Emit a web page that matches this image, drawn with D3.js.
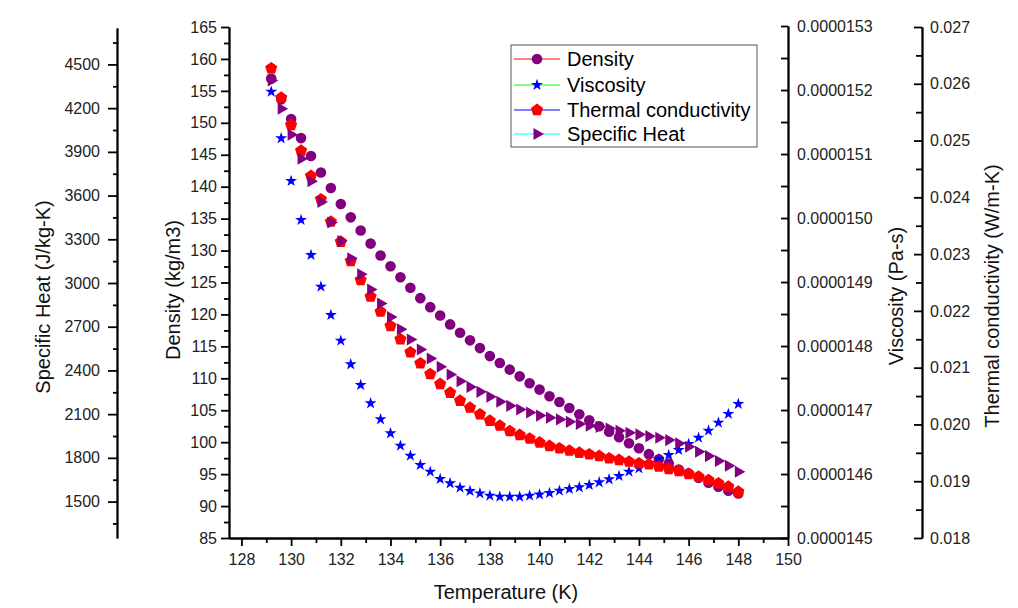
<!DOCTYPE html>
<html>
<head>
<meta charset="utf-8">
<script src="https://cdn.jsdelivr.net/npm/d3@7/dist/d3.min.js"></script>
<style>
  html, body { margin: 0; padding: 0; background: #fff; }
  svg { display: block; font-family: "Liberation Sans", Arial, sans-serif; }
</style>
</head>
<body>
<svg id="chart" width="1018" height="608"></svg>
<script>
// ---------------- data ----------------
const temperature = [129.2, 129.6, 130.0, 130.4, 130.8, 131.2, 131.6, 132.0, 132.4, 132.8,
  133.2, 133.6, 134.0, 134.4, 134.8, 135.2, 135.6, 136.0, 136.4, 136.8,
  137.2, 137.6, 138.0, 138.4, 138.8, 139.2, 139.6, 140.0, 140.4, 140.8,
  141.2, 141.6, 142.0, 142.4, 142.8, 143.2, 143.6, 144.0, 144.4, 144.8,
  145.2, 145.6, 146.0, 146.4, 146.8, 147.2, 147.6, 148.0];

const density = [156.92, 153.67, 150.58, 147.61, 144.80, 142.23, 139.80, 137.30, 135.20, 133.13,
  131.09, 129.22, 127.55, 125.83, 124.17, 122.55, 121.14, 119.84, 118.44, 117.14,
  115.94, 114.73, 113.48, 112.39, 111.36, 110.31, 109.22, 108.23, 107.19, 106.30,
  105.36, 104.38, 103.44, 102.50, 101.64, 100.78, 99.84, 99.06, 98.13, 97.34,
  96.67, 95.73, 95.11, 94.42, 93.64, 93.02, 92.39, 91.98];

const viscosity = [1.51973e-5, 1.51245e-5, 1.50578e-5, 1.49969e-5, 1.49422e-5, 1.48927e-5, 1.48484e-5, 1.48083e-5, 1.47714e-5, 1.47391e-5,
  1.47105e-5, 1.46855e-5, 1.46636e-5, 1.46442e-5, 1.46286e-5, 1.46141e-5, 1.46036e-5, 1.45922e-5, 1.45855e-5, 1.45786e-5,
  1.45734e-5, 1.45698e-5, 1.45661e-5, 1.45645e-5, 1.45645e-5, 1.45645e-5, 1.45661e-5, 1.45680e-5, 1.45703e-5, 1.45739e-5,
  1.45766e-5, 1.45792e-5, 1.45828e-5, 1.45870e-5, 1.45917e-5, 1.45969e-5, 1.46036e-5, 1.46089e-5, 1.46164e-5, 1.46234e-5,
  1.46297e-5, 1.46375e-5, 1.46469e-5, 1.46567e-5, 1.46677e-5, 1.46802e-5, 1.46938e-5, 1.47094e-5];

const thermalConductivity = [0.026272, 0.025755, 0.025274, 0.024821, 0.024376, 0.023965, 0.023571, 0.023218, 0.022878, 0.022544,
  0.022250, 0.021986, 0.021734, 0.021499, 0.021271, 0.021077, 0.020888, 0.020712, 0.020559, 0.020418,
  0.020295, 0.020179, 0.020066, 0.019978, 0.019884, 0.019814, 0.019752, 0.019682, 0.019620, 0.019580,
  0.019538, 0.019502, 0.019474, 0.019444, 0.019404, 0.019374, 0.019344, 0.019316, 0.019298, 0.019256,
  0.019215, 0.019180, 0.019127, 0.019080, 0.019021, 0.018963, 0.018903, 0.018815];

const specificHeat = [4390, 4196, 4018, 3853, 3698, 3556, 3415, 3288, 3170, 3060,
  2955, 2859, 2767, 2683, 2612, 2544, 2482, 2425, 2372, 2326,
  2287, 2253, 2219, 2185, 2157, 2132, 2111, 2090, 2076, 2064,
  2047, 2032, 2021, 2013, 2001, 1986, 1972, 1961, 1949, 1938,
  1922, 1899, 1876, 1842, 1812, 1778, 1746, 1705];

const xTicks = [128, 130, 132, 134, 136, 138, 140, 142, 144, 146, 148, 150];
const densityTicks = [85, 90, 95, 100, 105, 110, 115, 120, 125, 130, 135, 140, 145, 150, 155, 160, 165];
const viscosityTicks = [0.0000145, 0.0000146, 0.0000147, 0.0000148, 0.0000149, 0.0000150, 0.0000151, 0.0000152, 0.0000153];
const tcTicks = [0.018, 0.019, 0.020, 0.021, 0.022, 0.023, 0.024, 0.025, 0.026, 0.027];
const cpTicks = [1500, 1800, 2100, 2400, 2700, 3000, 3300, 3600, 3900, 4200, 4500];

const seriesNames = ["Density", "Viscosity", "Thermal conductivity", "Specific Heat"];
const legendLineColors = ["#ff0000", "#00ff00", "#0000ff", "#00ffff"];
const markerColors = ["#800080", "#0000ff", "#ff0000", "#800080"];

// ---------------- layout ----------------
const svg = d3.select("#chart");
const X0 = 229, X1 = 788, YB = 538;
const FONT_TICK = 16, FONT_TITLE = 20;

const x = d3.scaleLinear().domain([127.5, 150]).range([X0, X1]);
const yD = d3.scaleLinear().domain([85, 165]).range([YB, 27]);
const yV = d3.scaleLinear().domain([0.0000145, 0.0000153]).range([YB, 26]);
const yK = d3.scaleLinear().domain([0.018, 0.027]).range([YB, 27]);
const yC = d3.scaleLinear().domain([1250, 4750]).range([YB, 28]);

function minorBetween(ticks, extraBelow, extraAbove) {
  const out = [];
  for (let i = 0; i < ticks.length - 1; i++) out.push((ticks[i] + ticks[i + 1]) / 2);
  if (extraBelow !== undefined) out.unshift(extraBelow);
  if (extraAbove !== undefined) out.push(extraAbove);
  return out;
}

function styleAxis(g) {
  g.selectAll(".domain").attr("stroke", "#000").attr("stroke-width", 1.8);
  g.selectAll(".tick line").attr("stroke", "#000").attr("stroke-width", 1.8);
  g.selectAll("text").attr("fill", "#222").style("font-size", FONT_TICK + "px")
    .style("font-family", "'Liberation Sans', Arial, sans-serif");
}

// Bottom axis
const gx = svg.append("g").attr("transform", `translate(0,${YB})`)
  .call(d3.axisBottom(x).tickValues(xTicks).tickFormat(d3.format("d")).tickSize(8).tickSizeOuter(0).tickPadding(8));
styleAxis(gx);
const gxm = svg.append("g").attr("transform", `translate(0,${YB})`)
  .call(d3.axisBottom(x).tickValues(minorBetween(xTicks)).tickFormat("").tickSize(5).tickSizeOuter(0));
styleAxis(gxm);

// Density axis (left of plot)
const gd = svg.append("g").attr("transform", `translate(${X0},0)`)
  .call(d3.axisLeft(yD).tickValues(densityTicks).tickFormat(d3.format("d")).tickSize(8).tickSizeOuter(0).tickPadding(4));
styleAxis(gd);
const gdm = svg.append("g").attr("transform", `translate(${X0},0)`)
  .call(d3.axisLeft(yD).tickValues(minorBetween(densityTicks)).tickFormat("").tickSize(5).tickSizeOuter(0));
styleAxis(gdm);

// Specific heat axis (far left)
const XC = 117;
const gc = svg.append("g").attr("transform", `translate(${XC},0)`)
  .call(d3.axisLeft(yC).tickValues(cpTicks).tickFormat(d3.format("d")).tickSize(9).tickSizeOuter(0).tickPadding(8));
styleAxis(gc);
const gcm = svg.append("g").attr("transform", `translate(${XC},0)`)
  .call(d3.axisLeft(yC).tickValues(minorBetween(cpTicks, 1350, 4650)).tickFormat("").tickSize(4).tickSizeOuter(0));
styleAxis(gcm);

// Viscosity axis (right of plot), ticks inward
const gv = svg.append("g").attr("transform", `translate(${X1},0)`)
  .call(d3.axisRight(yV).tickValues(viscosityTicks).tickFormat(d3.format(".7f")).tickSize(-7).tickSizeOuter(0).tickPadding(9));
styleAxis(gv);
const gvm = svg.append("g").attr("transform", `translate(${X1},0)`)
  .call(d3.axisRight(yV).tickValues(minorBetween(viscosityTicks)).tickFormat("").tickSize(-7).tickSizeOuter(0));
styleAxis(gvm);

// Thermal conductivity axis (far right), ticks to the left
const XK = 922;
const gk = svg.append("g").attr("transform", `translate(${XK},0)`)
  .call(d3.axisRight(yK).tickValues(tcTicks).tickFormat(d3.format(".3f")).tickSize(-8).tickSizeOuter(0).tickPadding(8));
styleAxis(gk);
const gkm = svg.append("g").attr("transform", `translate(${XK},0)`)
  .call(d3.axisRight(yK).tickValues(minorBetween(tcTicks)).tickFormat("").tickSize(-6).tickSizeOuter(0));
styleAxis(gkm);

// Axis titles
function title(txt, cx, cy, rot) {
  svg.append("text")
    .attr("transform", `translate(${cx},${cy}) rotate(${rot})`)
    .attr("text-anchor", "middle").attr("dominant-baseline", "central")
    .attr("fill", "#111").style("font-size", FONT_TITLE + "px")
    .text(txt);
}
title("Temperature (K)", 506, 592, 0);
title("Specific Heat (J/kg-K)", 43, 297, -90);
title("Density (kg/m3)", 173, 290, -90);
title("Viscosity (Pa-s)", 896, 296, -90);
title("Thermal conductivity (W/m-K)", 992, 296, -90);

// ---------------- markers ----------------
const pentagon = {
  draw(ctx, size) {
    const r = Math.sqrt(size / 2.3776);
    for (let i = 0; i < 5; i++) {
      const a = -Math.PI / 2 + i * 2 * Math.PI / 5;
      const px = r * Math.cos(a), py = r * Math.sin(a);
      if (i === 0) ctx.moveTo(px, py); else ctx.lineTo(px, py);
    }
    ctx.closePath();
  }
};
const triRight = {
  draw(ctx, size) {
    const r = Math.sqrt(size / 1.299);
    ctx.moveTo(r, 0);
    ctx.lineTo(-r / 2, r * 0.866);
    ctx.lineTo(-r / 2, -r * 0.866);
    ctx.closePath();
  }
};

const symbolDefs = [
  d3.symbol().type(d3.symbolCircle).size(Math.PI * 5.3 * 5.3),
  d3.symbol().type(d3.symbolStar).size(6.3 * 6.3 / 0.8908),
  d3.symbol().type(pentagon).size(2.3776 * 6.4 * 6.4),
  d3.symbol().type(triRight).size(1.299 * 7 * 7)
];

const seriesValues = [density, viscosity, thermalConductivity, specificHeat];
const seriesScales = [yD, yV, yK, yC];

const plot = svg.append("g");
seriesValues.forEach((vals, s) => {
  plot.append("g").selectAll("path")
    .data(vals.map((v, i) => ({ t: temperature[i], v })))
    .join("path")
    .attr("d", symbolDefs[s]())
    .attr("transform", d => `translate(${x(d.t)},${seriesScales[s](d.v)})`)
    .attr("fill", markerColors[s]);
});

// ---------------- legend ----------------
const LX = 511, LY = 45, LW = 246, LH = 102;
const lg = svg.append("g");
lg.append("rect").attr("x", LX).attr("y", LY).attr("width", LW).attr("height", LH)
  .attr("fill", "#fff").attr("stroke", "#555").attr("stroke-width", 1);
const rowY = [59, 85, 110, 134];
seriesNames.forEach((name, s) => {
  const cy = rowY[s];
  lg.append("line").attr("x1", LX + 3).attr("x2", LX + 49).attr("y1", cy).attr("y2", cy)
    .attr("stroke", legendLineColors[s]).attr("stroke-width", 1);
  lg.append("path").attr("d", symbolDefs[s]())
    .attr("transform", `translate(${LX + 26},${cy})`).attr("fill", markerColors[s]);
  lg.append("text").attr("x", LX + 56).attr("y", cy).attr("dominant-baseline", "central")
    .attr("fill", "#000").style("font-size", FONT_TITLE + "px").text(name);
});
</script>
</body>
</html>
